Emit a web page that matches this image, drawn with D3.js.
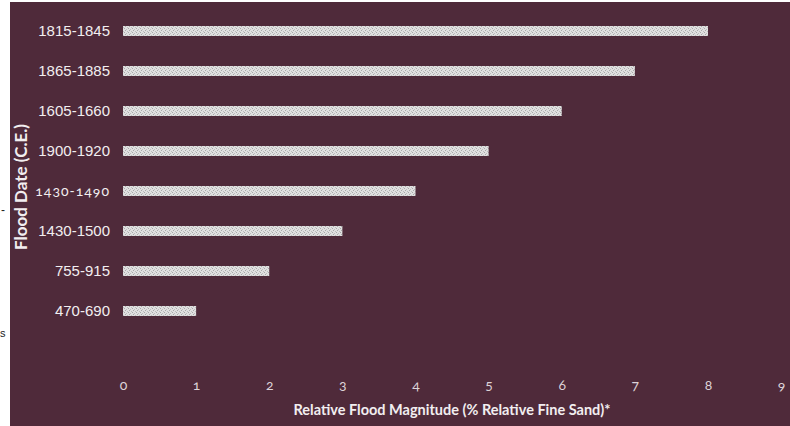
<!DOCTYPE html>
<html><head><meta charset="utf-8">
<script src="https://cdn.jsdelivr.net/npm/d3@7"></script>
<style>body{margin:0;background:#fff}svg{display:block}</style>
</head><body>
<script>
const categories = ["1815-1845","1865-1885","1605-1660","1900-1920","1430-1490","1430-1500","755-915","470-690"];
const values = [8,7,6,5,4,3,2,1];
const xTicks = [0,1,2,3,4,5,6,7,8,9];
const xTitle = "Relative Flood Magnitude (% Relative Fine Sand)*";
const yTitle = "Flood Date (C.E.)";

const W = 790, H = 426;
const svg = d3.select("body").append("svg").attr("width", W).attr("height", H);

const defs = svg.append("defs");
const pat = defs.append("pattern").attr("id","dots").attr("patternUnits","userSpaceOnUse")
  .attr("width",4).attr("height",4);
pat.append("rect").attr("width",4).attr("height",4).attr("fill","#e0e0e0");
pat.append("rect").attr("x",0).attr("y",0).attr("width",1).attr("height",1).attr("fill","#a8a8a8");
pat.append("rect").attr("x",2).attr("y",1).attr("width",1).attr("height",1).attr("fill","#bdbdbd");
pat.append("rect").attr("x",1).attr("y",2).attr("width",1).attr("height",1).attr("fill","#a8a8a8");
pat.append("rect").attr("x",3).attr("y",3).attr("width",1).attr("height",1).attr("fill","#bdbdbd");

// background
svg.append("rect").attr("x",10).attr("y",2).attr("width",W-10).attr("height",H-2).attr("fill","#4f2a3a");

// stray fragments on left strip
svg.append("text").attr("x",1).attr("y",214).attr("font-family","Liberation Sans").attr("font-size",12).attr("fill","#222").text("-");
svg.append("text").attr("x",0).attr("y",337).attr("font-family","Liberation Sans").attr("font-size",11).attr("fill","#222").text("s");

const x = d3.scaleLinear().domain([0,8]).range([123,708]);
const y = d3.scaleBand().domain(categories).range([11,331]).paddingInner(0.75).paddingOuter(0.375);

svg.append("g").selectAll("rect").data(categories).join("rect")
  .attr("x", x(0)).attr("y", d => y(d))
  .attr("width", (d,i) => x(values[i]) - x(0))
  .attr("height", y.bandwidth())
  .attr("fill","url(#dots)");

// y axis labels
const yAxis = d3.axisLeft(y).tickSize(0).tickPadding(0);
const gy = svg.append("g").attr("transform","translate(110,0)").call(yAxis);
gy.select(".domain").remove();
gy.selectAll("text").attr("font-family","Liberation Sans, Arial").attr("font-size",15).attr("fill","#f2eef0")
  .attr("dy","0.35em");
gy.selectAll("text").filter(d => d === "1430-1490")
  .attr("font-family","Lato").attr("font-size",14).style("font-variant-numeric","oldstyle-nums")
  .style("letter-spacing","1px");

// x axis tick labels
const xAxis = d3.axisBottom(x).tickValues(xTicks).tickSize(0).tickPadding(0);
const gx = svg.append("g").attr("transform","translate(0,380)").call(xAxis);
gx.select(".domain").remove();
gx.selectAll("text").attr("font-family","Lato").attr("font-size",14).attr("fill","#ddd3d8")
  .style("font-variant-numeric","oldstyle-nums");

// titles
svg.append("text").attr("x",452).attr("y",415).attr("text-anchor","middle")
  .attr("font-family","Lato").attr("font-weight","bold").attr("font-size",14.5).attr("fill","#f2eef0").text(xTitle);
svg.append("text").attr("transform","translate(27,187) rotate(-90)").attr("text-anchor","middle")
  .attr("font-family","Lato").attr("font-weight","bold").attr("font-size",17).attr("fill","#f2eef0").text(yTitle);
</script>
</body></html>
